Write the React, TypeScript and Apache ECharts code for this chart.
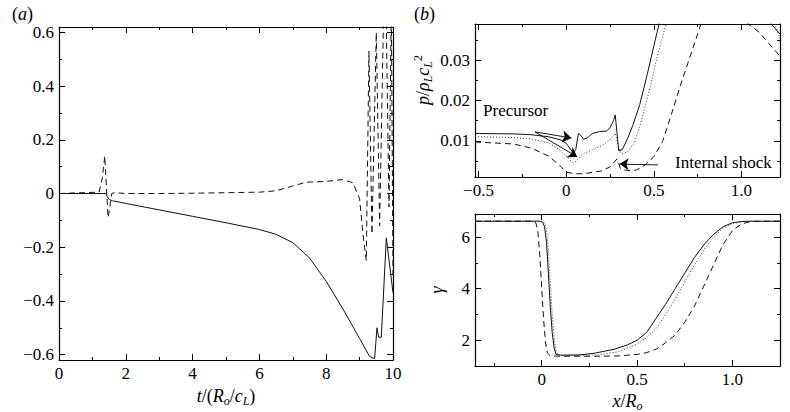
import React, { useEffect, useRef } from 'react';
import * as echarts from 'echarts';

const FONT = 'Liberation Serif';

// ---------- Panel (a): time histories ----------
const aSolidT = [0, 1.4, 1.44, 1.5, 1.6, 2, 3, 4, 5, 6, 6.5, 7, 7.5, 8, 8.5, 9, 9.3, 9.45, 9.52, 9.57, 9.65, 9.8, 10];
const aSolidV = [0, 0, -0.01, -0.022, -0.027, -0.037, -0.061, -0.085, -0.109, -0.134, -0.152, -0.183, -0.24, -0.327, -0.43, -0.54, -0.607, -0.615, -0.5, -0.535, -0.535, -0.165, -0.37];
const aDashT = [0, 1.2, 1.3, 1.37, 1.42, 1.47, 1.52, 1.58, 1.65, 2, 3, 4, 5, 6, 6.5, 7, 7.4, 8, 8.5, 8.8, 9.0, 9.1, 9.2, 9.28, 9.37, 9.5, 9.6, 9.72, 9.8, 9.88, 9.95, 10];
const aDashV = [0, 0.005, 0.06, 0.14, 0.02, -0.09, -0.05, 0.0, 0.003, 0.0, 0.0, 0.001, 0.003, 0.005, 0.01, 0.028, 0.042, 0.045, 0.052, 0.04, -0.02, -0.15, -0.25, 0.53, -0.15, 0.6, -0.12, 0.68, 0.62, -0.05, 0.7, -0.3];

const aXMajor = [0, 2, 4, 6, 8, 10];
const aXMinor = [1, 3, 5, 7, 9];
const aYMajor = [-0.6, -0.4, -0.2, 0, 0.2, 0.4, 0.6];
const aYMinor = [-0.5, -0.3, -0.1, 0.1, 0.3, 0.5];

// ---------- Panel (b) top: pressure profiles ----------
const pSolidX = [-0.52, -0.3, -0.2, -0.1, -0.03, 0.0, 0.02, 0.035, 0.045, 0.055, 0.07, 0.08, 0.1, 0.12, 0.15, 0.19, 0.23, 0.25, 0.27, 0.28, 0.29, 0.3, 0.32, 0.35, 0.38, 0.42, 0.46, 0.5, 0.53, 0.6, 0.8, 1.0, 1.17, 1.22];
const pSolidV = [0.0118, 0.0117, 0.0115, 0.011, 0.0102, 0.0094, 0.0082, 0.0073, 0.0072, 0.0078, 0.0118, 0.0115, 0.0104, 0.0107, 0.0118, 0.0123, 0.0124, 0.0132, 0.015, 0.0164, 0.012, 0.0075, 0.0078, 0.0105, 0.0138, 0.019, 0.026, 0.0335, 0.039, 0.05, 0.06, 0.052, 0.039, 0.0365];
const pDotX = [-0.52, -0.3, -0.2, -0.1, -0.03, 0.02, 0.045, 0.07, 0.1, 0.15, 0.2, 0.25, 0.28, 0.3, 0.315, 0.35, 0.39, 0.43, 0.48, 0.52, 0.57, 0.6, 0.8, 1.0, 1.19, 1.22];
const pDotV = [0.011, 0.0108, 0.0104, 0.0095, 0.0075, 0.0052, 0.0045, 0.0055, 0.0068, 0.0078, 0.0087, 0.0102, 0.0118, 0.0085, 0.0068, 0.0072, 0.0095, 0.015, 0.0235, 0.031, 0.039, 0.044, 0.058, 0.05, 0.039, 0.0355];
const pDashX = [-0.52, -0.3, -0.2, -0.1, -0.03, 0.0, 0.05, 0.1, 0.2, 0.25, 0.29, 0.3, 0.31, 0.35, 0.4, 0.45, 0.5, 0.55, 0.6, 0.65, 0.7, 0.75, 0.78, 0.9, 1.04, 1.1, 1.22];
const pDashV = [0.0097, 0.0092, 0.0082, 0.0062, 0.0036, 0.0022, 0.0018, 0.0018, 0.0025, 0.0035, 0.0055, 0.0045, 0.003, 0.0026, 0.0027, 0.004, 0.006, 0.0098, 0.0165, 0.0235, 0.03, 0.0365, 0.0405, 0.048, 0.039, 0.037, 0.031];

const pXMajor = [-0.5, 0, 0.5, 1.0];
const pXMinor = [-0.25, 0.25, 0.75];
const pYMajor = [0.01, 0.02, 0.03];
const pYMinor = [0.005, 0.015, 0.025, 0.035];

// ---------- Panel (b) bottom: gamma profiles ----------
const gSolidX = [-0.35, -0.01, 0.005, 0.015, 0.025, 0.035, 0.045, 0.055, 0.065, 0.075, 0.1, 0.2, 0.28, 0.38, 0.45, 0.5, 0.55, 0.6, 0.65, 0.7, 0.75, 0.8, 0.85, 0.9, 0.95, 1.0, 1.05, 1.1, 1.25];
const gSolidV = [6.62, 6.62, 6.58, 6.4, 5.8, 4.6, 3.3, 2.3, 1.7, 1.45, 1.42, 1.43, 1.5, 1.65, 1.82, 2.0, 2.3, 2.85, 3.4, 4.0, 4.6, 5.2, 5.7, 6.1, 6.4, 6.56, 6.61, 6.62, 6.62];
const gDotX = [-0.35, 0.0, 0.015, 0.025, 0.035, 0.045, 0.055, 0.065, 0.075, 0.085, 0.1, 0.2, 0.3, 0.4, 0.5, 0.55, 0.6, 0.65, 0.7, 0.75, 0.8, 0.85, 0.9, 0.95, 1.0, 1.05, 1.1, 1.25];
const gDotV = [6.62, 6.62, 6.55, 6.3, 5.5, 4.2, 3.0, 2.1, 1.6, 1.43, 1.41, 1.41, 1.44, 1.55, 1.85, 2.1, 2.45, 3.0, 3.6, 4.25, 4.9, 5.5, 6.0, 6.35, 6.52, 6.6, 6.62, 6.62];
const gDashX = [-0.35, -0.045, -0.03, -0.02, -0.01, 0.0, 0.01, 0.02, 0.03, 0.045, 0.1, 0.2, 0.3, 0.4, 0.5, 0.55, 0.6, 0.65, 0.7, 0.75, 0.8, 0.85, 0.9, 0.95, 1.0, 1.05, 1.1, 1.25];
const gDashV = [6.62, 6.62, 6.55, 6.2, 5.3, 4.0, 2.8, 1.9, 1.5, 1.39, 1.38, 1.38, 1.38, 1.39, 1.45, 1.52, 1.65, 1.9, 2.2, 2.7, 3.3, 4.1, 4.9, 5.7, 6.25, 6.52, 6.61, 6.62];

const gXMajor = [0, 0.5, 1.0];
const gXMinor = [-0.25, 0.25, 0.75];
const gYMajor = [2, 4, 6];
const gYMinor = [3, 5];

const zip = (xs: number[], ys: number[]) => xs.map((x, i) => [x, ys[i]]);

const fmt = (d: number) => (v: number) => {
  if (Math.abs(v) < 1e-12) return '0';
  return (v < 0 ? '\u2212' : '') + Math.abs(v).toFixed(d);
};

const labelStyle = { fontFamily: FONT, fontSize: 17, color: '#000' };

function oneAxis(gi: number, pos: string, min: number, max: number, ticks: number[], len: number,
  labels: number[] | null, fmtFn: any, showLine: boolean, extra: any = {}) {
  return {
    type: 'value', gridIndex: gi, position: pos, min, max,
    axisLine: { show: showLine, onZero: false, lineStyle: { color: '#000', width: 1.2 } },
    axisTick: { show: true, inside: true, length: len, customValues: ticks, lineStyle: { color: '#000', width: 1 } },
    axisLabel: labels ? { show: true, customValues: labels, formatter: fmtFn, margin: 5, ...labelStyle } : { show: false },
    splitLine: { show: false },
    minorTick: { show: false },
    ...extra,
  };
}

function boxAxes(gi: number, dim: 'x' | 'y', min: number, max: number, major: number[], minor: number[],
  labels: number[], fmtFn: any, extra: any = {}) {
  const p1 = dim === 'x' ? 'bottom' : 'left';
  const p2 = dim === 'x' ? 'top' : 'right';
  return [
    oneAxis(gi, p1, min, max, major, 6, labels, fmtFn, true, extra),
    oneAxis(gi, p1, min, max, minor, 3, null, null, false),
    oneAxis(gi, p2, min, max, major, 6, null, null, true),
    oneAxis(gi, p2, min, max, minor, 3, null, null, false),
  ];
}

const richBase = {
  i: { fontFamily: FONT, fontStyle: 'italic', fontSize: 18, color: '#000', lineHeight: 22, verticalAlign: 'middle' },
  n: { fontFamily: FONT, fontSize: 18, color: '#000', lineHeight: 22, verticalAlign: 'middle' },
  s: { fontFamily: FONT, fontStyle: 'italic', fontSize: 12, color: '#000', lineHeight: 12, verticalAlign: 'bottom' },
  p: { fontFamily: FONT, fontSize: 12, color: '#000', lineHeight: 12, verticalAlign: 'top' },
};

const line = (xi: number, yi: number, data: number[][], type: any, extra: any = {}) => ({
  type: 'line', xAxisIndex: xi, yAxisIndex: yi, data, showSymbol: false, symbol: 'none', silent: true,
  lineStyle: { color: '#111', width: 1, type }, clip: true, z: 3, ...extra,
});

const annLabel = (text: string) => ({
  show: true, position: 'right', distance: 0, formatter: text, fontFamily: FONT, fontSize: 17, color: '#000',
});

export default function App() {
  const ref = useRef<HTMLDivElement>(null);
  useEffect(() => {
    if (!ref.current) return;
    const chart = echarts.init(ref.current, undefined, { renderer: 'svg' });
    const xAxes = [
      ...boxAxes(0, 'x', 0, 10, aXMajor, aXMinor, aXMajor, fmt(0), {
        name: '{i|t}{n|/(}{i|R}{s|o}{n|/}{i|c}{s|L}{n|)}', nameLocation: 'middle', nameGap: 20,
        nameTextStyle: { rich: richBase, fontFamily: FONT },
      }),
      ...boxAxes(1, 'x', -0.52, 1.22, pXMajor, pXMinor, pXMajor, fmt(1)),
      ...boxAxes(2, 'x', -0.35, 1.25, gXMajor, gXMinor, gXMajor, fmt(1), {
        name: '{i|x}{n|/}{i|R}{s|o}', nameLocation: 'middle', nameGap: 24,
        nameTextStyle: { rich: richBase, fontFamily: FONT },
      }),
    ];
    const yAxes = [
      ...boxAxes(0, 'y', -0.62, 0.62, aYMajor, aYMinor, aYMajor, fmt(1)),
      ...boxAxes(1, 'y', 0.001, 0.039, pYMajor, pYMinor, pYMajor, fmt(2)),
      ...boxAxes(2, 'y', 1, 6.9, gYMajor, gYMinor, gYMajor, fmt(0)),
    ];
    const arrowLine = { color: '#000', width: 0.9, type: 'solid' };
    const option: any = {
      animation: false,
      backgroundColor: '#fff',
      textStyle: { fontFamily: FONT },
      grid: [
        { left: 59, top: 27, width: 334, height: 333, containLabel: false, outerBoundsMode: 'none' },
        { left: 475, top: 24, width: 305, height: 153, containLabel: false, outerBoundsMode: 'none' },
        { left: 475, top: 214, width: 305, height: 152, containLabel: false, outerBoundsMode: 'none' },
      ],
      xAxis: xAxes,
      yAxis: yAxes,
      series: [
        line(0, 0, zip(aSolidT, aSolidV), 'solid'),
        line(0, 0, zip(aDashT, aDashV), [6, 4]),
        line(4, 4, zip(pSolidX, pSolidV), 'solid', {
          markLine: {
            silent: true, animation: false, symbol: ['none', 'arrow'], symbolSize: 9,
            label: { show: false }, lineStyle: arrowLine,
            data: [
              [{ coord: [-0.178, 0.0122] }, { coord: [0.03, 0.0107] }],
              [{ coord: [-0.178, 0.0122] }, { coord: [0.063, 0.006] }],
              [{ coord: [0.524, 0.004] }, { coord: [0.305, 0.0042] }],
            ],
          },
          markPoint: {
            silent: true, animation: false, symbol: 'circle', symbolSize: 0,
            data: [
              { coord: [-0.474, 0.0176], label: annLabel('Precursor') },
              { coord: [0.621, 0.0045], label: annLabel('Internal shock') },
            ],
          },
        }),
        line(4, 4, zip(pDotX, pDotV), [1, 2], { lineStyle: { color: '#333', width: 1, type: [1, 2] } }),
        line(4, 4, zip(pDashX, pDashV), [6, 4]),
        line(8, 8, zip(gSolidX, gSolidV), 'solid'),
        line(8, 8, zip(gDotX, gDotV), [1, 2], { lineStyle: { color: '#333', width: 1, type: [1, 2] } }),
        line(8, 8, zip(gDashX, gDashV), [6, 4]),
      ],
      graphic: [
        { type: 'text', left: 12, top: 5, style: { text: '{n|(}{i|a}{n|)}', rich: richBase, fontFamily: FONT } },
        { type: 'text', left: 414, top: 5, style: { text: '{n|(}{i|b}{n|)}', rich: richBase, fontFamily: FONT } },
        { type: 'text', x: 423, y: 80, rotation: Math.PI / 2, style: { text: '{i|p}{n|/}{i|\u03c1}{s|L}{i|c}{s|L}{p|2}', rich: richBase, fontFamily: FONT, align: 'center', verticalAlign: 'middle' } },
        { type: 'text', x: 437, y: 290, rotation: Math.PI / 2, style: { text: '{i|\u03b3}', rich: richBase, fontFamily: FONT, align: 'center', verticalAlign: 'middle' } },
      ],
    };
    chart.setOption(option);
    return () => chart.dispose();
  }, []);
  return <div ref={ref} style={{ position: 'fixed', left: 0, top: 0, width: 790, height: 412, background: '#fff' }} />;
}
